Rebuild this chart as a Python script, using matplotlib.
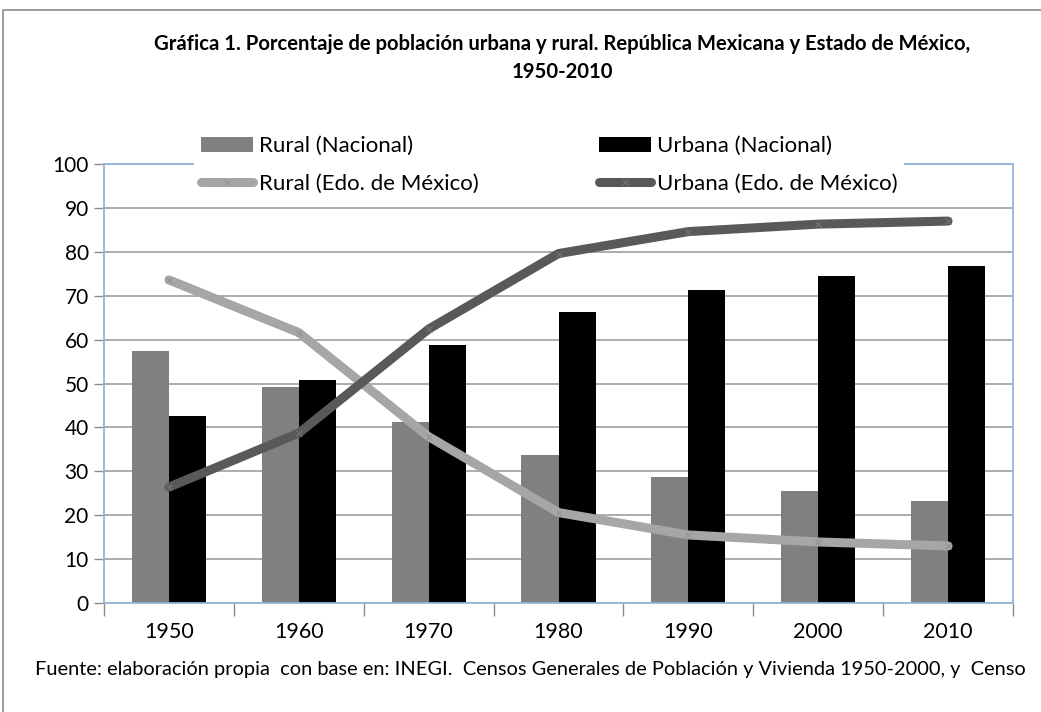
import numpy as np
import matplotlib
matplotlib.use("Agg")
import matplotlib.pyplot as plt
from matplotlib.patches import Rectangle

# Datos
years = ['1950', '1960', '1970', '1980', '1990', '2000', '2010']
rural_nac = [57.4, 49.3, 41.2, 33.7, 28.7, 25.4, 23.2]
urbana_nac = [42.6, 50.7, 58.7, 66.3, 71.3, 74.6, 76.8]
rural_edo = [73.6, 61.6, 37.9, 20.6, 15.5, 13.9, 13.0]
urbana_edo = [26.4, 38.7, 62.4, 79.6, 84.6, 86.3, 87.0]

title = ('Gráfica 1. Porcentaje de población urbana y rural. República Mexicana y Estado de México,\n'
         '1950-2010')
fuente = ('Fuente: elaboración propia  con base en: INEGI.  Censos Generales de Población y Vivienda '
          '1950-2000, y  Censo')

plt.rcParams['font.family'] = ['Lato', 'DejaVu Sans']

W, H = 1041, 712
fig = plt.figure(figsize=(W / 100, H / 100), dpi=100)

# marco exterior
fig.patches.append(Rectangle((3 / W, -0.05), 1.1, 1 - 10 / H + 0.05, transform=fig.transFigure,
                             fill=False, edgecolor='#8c8c8c', linewidth=1.2))

ax = fig.add_axes([104 / W, 1 - 603 / H, (1013 - 104) / W, (603 - 164) / H])

x = np.arange(len(years))
bw = 0.285
b1 = ax.bar(x - bw / 2, rural_nac, width=bw, color='#808080', label='Rural (Nacional)', zorder=2)
b2 = ax.bar(x + bw / 2, urbana_nac, width=bw, color='black', label='Urbana (Nacional)', zorder=2)
l1, = ax.plot(x, rural_edo, color='#a6a6a6', lw=6.5, marker='x', ms=5, mew=1.0, mec='#969696',
              solid_capstyle='round', label='Rural (Edo. de México)', zorder=3)
l2, = ax.plot(x, urbana_edo, color='#595959', lw=6.5, marker='x', ms=5, mew=1.0, mec='#6e6e6e',
              solid_capstyle='round', label='Urbana (Edo. de México)', zorder=4)

ax.set_xlim(-0.5, len(years) - 0.5)
ax.set_ylim(0, 100)
ax.set_yticks(range(0, 101, 10))
ax.set_xticks(x)
ax.set_xticklabels(years)
ax.set_xticks(np.arange(-0.5, len(years), 1), minor=True)
ax.tick_params(axis='x', which='major', length=0, pad=14, labelsize=15.5)
ax.tick_params(axis='x', which='minor', length=9, width=1, color='#8c8c8c', direction='out')
ax.tick_params(axis='y', length=7, width=1, color='#8c8c8c', labelsize=15, pad=4)
ax.grid(axis='y', color='#a6a6a6', linewidth=1.3, zorder=0)
ax.set_axisbelow(True)
for s in ax.spines.values():
    s.set_color('#95b3d7')
    s.set_linewidth(1.3)

fig.text(562 / W, 1 - 58 / H, title, ha='center', va='center', fontsize=14.6,
         fontweight='bold', linespacing=1.45)

# columnas: nacional arriba, Edo. de México abajo
leg = fig.legend([b1, l1, b2, l2],
                 ['Rural (Nacional)', 'Rural (Edo. de México)',
                  'Urbana (Nacional)', 'Urbana (Edo. de México)'], ncol=2,
                 loc='center left', bbox_to_anchor=(183 / W, 1 - 165 / H),
                 fontsize=16, frameon=True, facecolor='white', edgecolor='none', framealpha=1,
                 handlelength=2.35, handletextpad=0.27, columnspacing=5.4, labelspacing=0.78,
                 borderpad=0.3, fancybox=False)
leg.set_zorder(10)

fig.text(35 / W, 1 - 669 / H, fuente, ha='left', va='center', fontsize=14.4)

fig.savefig('out.png', dpi=100)
